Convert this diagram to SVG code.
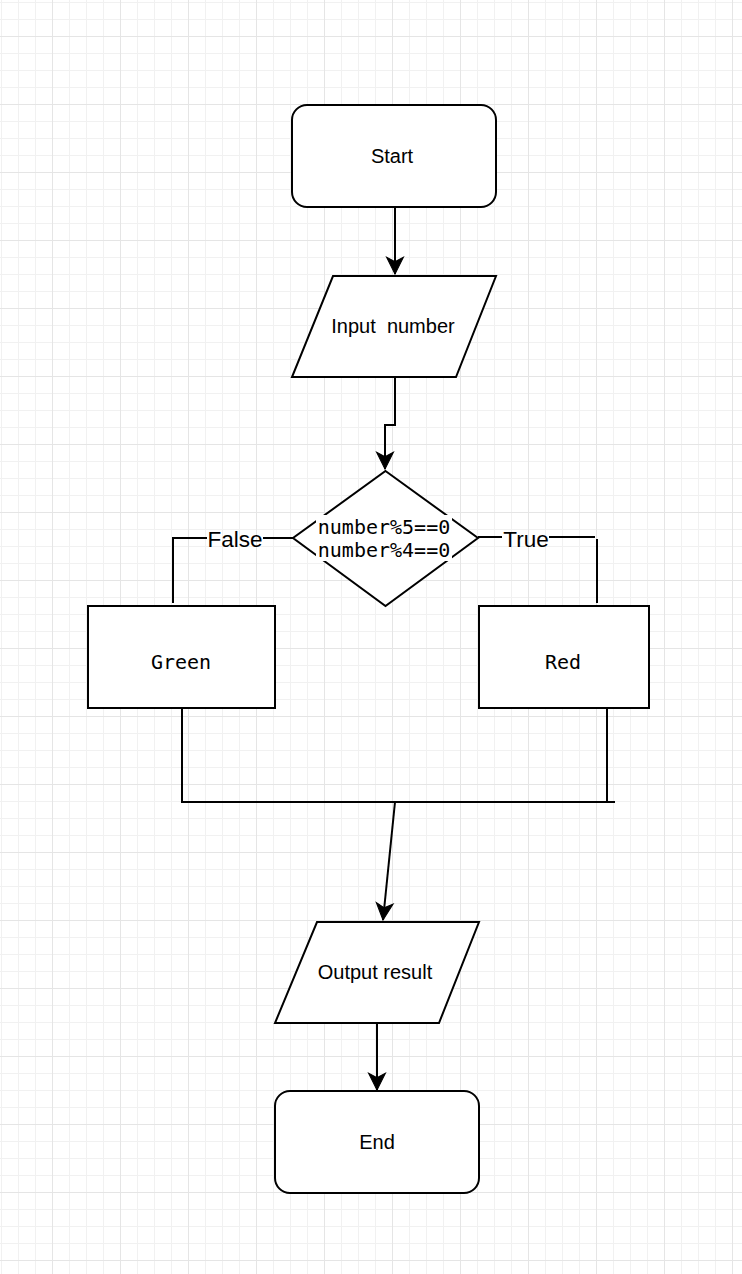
<svg xmlns="http://www.w3.org/2000/svg" width="742" height="1274" viewBox="0 0 742 1274">
<style>
.shape{fill:#fff;stroke:#000;stroke-width:2}
.line{fill:none;stroke:#000;stroke-width:2}
.sans{font-family:"Liberation Sans",Arial,sans-serif;font-size:20px;fill:#000;text-anchor:middle;dominant-baseline:central}
.lbl{font-family:"Liberation Sans",Arial,sans-serif;font-size:22.5px;fill:#000;text-anchor:middle;dominant-baseline:central}
.mono{font-family:"DejaVu Sans Mono","Liberation Mono",monospace;font-size:20px;fill:#000;text-anchor:middle;dominant-baseline:central}
</style>
<defs>
<pattern id="grid" patternUnits="userSpaceOnUse" x="52" y="36" width="68" height="68">
<path d="M17.5,0V68M34.5,0V68M51.5,0V68M0,17.5H68M0,34.5H68M0,51.5H68" stroke="#f1f1f1" stroke-width="1" fill="none"/>
<path d="M0.5,0V68M0,0.5H68" stroke="#e5e5e5" stroke-width="1" fill="none"/>
</pattern>
<marker id="arrow" markerUnits="userSpaceOnUse" markerWidth="20" markerHeight="20" viewBox="-16 -9 18 18" refX="0" refY="0" orient="auto">
<path d="M0,0 L-15,-7.5 L-11,0 L-15,7.5 Z" fill="#000" stroke="#000" stroke-width="1"/>
</marker>
</defs>
<rect width="742" height="1274" fill="#fff"/>
<rect width="742" height="1274" fill="url(#grid)"/>

<g id="connectors">
<path class="line" d="M395,208V274" marker-end="url(#arrow)"/>
<path class="line" d="M395,378V425H385V469" marker-end="url(#arrow)"/>
<path class="line" d="M293,538H263"/>
<path class="line" d="M207,538H173M173,537V603"/>
<path class="line" d="M478,537H502"/>
<path class="line" d="M549,537H595M597,539V603"/>
<path class="line" d="M182,709V802H615M607,709V802"/>
<path class="line" d="M395,802L383,920" marker-end="url(#arrow)"/>
<path class="line" d="M377,1024V1090" marker-end="url(#arrow)"/>
<text class="lbl" x="235" y="539">False</text>
<text class="lbl" x="526" y="539">True</text>
</g>

<g id="start">
<rect class="shape" x="292" y="105" width="204" height="102" rx="15"/>
<text class="sans" x="392" y="156">Start</text>
</g>

<g id="input">
<polygon class="shape" points="333,276 496,276 456,377 292,377"/>
<text class="sans" x="393" y="326" xml:space="preserve">Input  number</text>
</g>

<g id="decision">
<polygon class="shape" points="385.5,471 478,538 385.5,606 293,538"/>
<rect x="316" y="515" width="136" height="46" fill="#fff"/>
<text class="mono" x="384" y="527">number%5==0</text>
<text class="mono" x="384" y="550">number%4==0</text>
</g>

<g id="green">
<rect class="shape" x="88" y="606" width="187" height="102"/>
<text class="mono" x="181" y="662">Green</text>
</g>

<g id="red">
<rect class="shape" x="479" y="606" width="170" height="102"/>
<text class="mono" x="563" y="662">Red</text>
</g>

<g id="output">
<polygon class="shape" points="317,922 479,922 439,1023 275,1023"/>
<text class="sans" x="375" y="972">Output result</text>
</g>

<g id="end">
<rect class="shape" x="275" y="1091" width="204" height="102" rx="15"/>
<text class="sans" x="377" y="1142">End</text>
</g>
</svg>
